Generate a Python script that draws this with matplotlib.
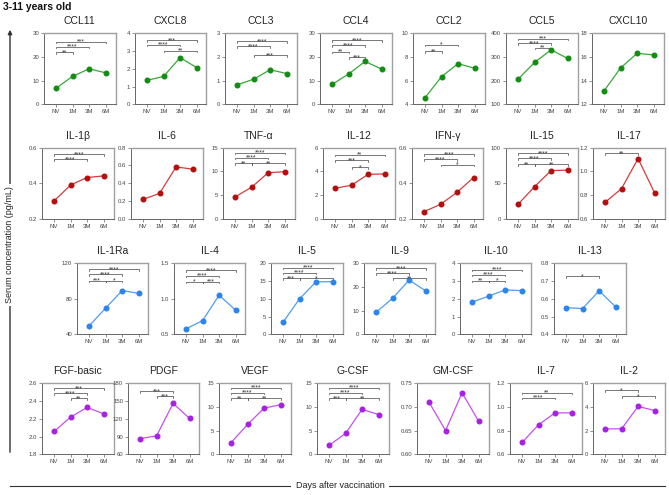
import matplotlib
matplotlib.use('Agg')
import matplotlib.pyplot as plt
from matplotlib.transforms import blended_transform_factory

plt.rcParams['font.family'] = ['Liberation Sans', 'DejaVu Sans']

timepoints = ['NV', '1M', '3M', '6M']

# ---- Row 1 : chemokines (green)
ccl11 = [6.8, 11.8, 15.0, 13.3]
cxcl8 = [1.35, 1.57, 2.63, 2.07]
ccl3 = [0.82, 1.06, 1.46, 1.30]
ccl4 = [8.4, 12.8, 18.1, 14.9]
ccl2 = [4.56, 6.34, 7.44, 7.04]
ccl5 = [206, 277, 330, 294]
cxcl10 = [13.13, 15.07, 16.31, 16.17]
# ---- Row 2 : (red)
il1b = [0.30, 0.39, 0.432, 0.441]
il6 = [0.218, 0.285, 0.584, 0.558]
tnfa = [4.6, 6.65, 9.7, 9.95]
il12 = [2.57, 2.83, 3.75, 3.78]
ifng = [0.24, 0.281, 0.349, 0.432]
il15 = [20.3, 45.2, 67.8, 68.4]
il17 = [0.738, 0.855, 1.108, 0.818]
# ---- Row 3 : (blue)
il1ra = [49.4, 69.4, 89.3, 86.2]
il4 = [0.577, 0.693, 1.05, 0.84]
il5 = [3.4, 10.0, 14.8, 14.8]
il9 = [9.3, 15.2, 22.9, 18.4]
il10 = [1.81, 2.15, 2.50, 2.46]
il13 = [0.55, 0.545, 0.645, 0.555]
# ---- Row 4 : (purple)
fgf = [2.057, 2.219, 2.328, 2.257]
pdgf = [86.6, 91.1, 146, 120.6]
vegf = [2.48, 6.3, 9.76, 10.47]
gcsf = [1.9, 4.4, 9.5, 8.4]
gmcsf = [0.71, 0.65, 0.73, 0.67]
il7 = [0.70, 0.85, 0.95, 0.95]
il2 = [2.15, 2.15, 4.05, 3.7]

# y ticks per panel
yt = {
    'CCL11': ([0, 10, 20, 30], '{:g}'), 'CXCL8': ([0, 1, 2, 3, 4], '{:g}'),
    'CCL3': ([0, 1, 2, 3], '{:g}'), 'CCL4': ([0, 10, 20, 30], '{:g}'),
    'CCL2': ([4, 6, 8, 10], '{:g}'), 'CCL5': ([100, 200, 300, 400], '{:g}'),
    'CXCL10': ([12, 14, 16, 18], '{:g}'),
    'IL-1β': ([0.2, 0.4, 0.6], '{:.1f}'), 'IL-6': ([0.0, 0.2, 0.4, 0.6, 0.8], '{:.1f}'),
    'TNF-α': ([0, 5, 10, 15], '{:g}'), 'IL-12': ([0, 2, 4, 6], '{:g}'),
    'IFN-γ': ([0.2, 0.4, 0.6], '{:.1f}'), 'IL-15': ([0, 50, 100], '{:g}'),
    'IL-17': ([0.6, 0.8, 1.0, 1.2], '{:.1f}'),
    'IL-1Ra': ([40, 80, 120], '{:g}'), 'IL-4': ([0.5, 1.0, 1.5], '{:.1f}'),
    'IL-5': ([0, 5, 10, 15, 20], '{:g}'), 'IL-9': ([0, 10, 20, 30], '{:g}'),
    'IL-10': ([0, 1, 2, 3, 4], '{:g}'), 'IL-13': ([0.4, 0.5, 0.6, 0.7, 0.8], '{:.1f}'),
    'FGF-basic': ([1.8, 2.0, 2.2, 2.4, 2.6], '{:.1f}'),
    'PDGF': ([60, 90, 120, 150, 180], '{:g}'), 'VEGF': ([0, 5, 10, 15], '{:g}'),
    'G-CSF': ([0, 5, 10, 15], '{:g}'), 'GM-CSF': ([0.60, 0.65, 0.70, 0.75], '{:.2f}'),
    'IL-7': ([0.6, 0.8, 1.0, 1.2], '{:.1f}'), 'IL-2': ([0, 2, 4, 6], '{:g}'),
}

# significance brackets: (from, to, label, height in axes fraction)
brackets = {
    'CCL11': [(0, 3, '***', 0.883), (0, 2, '****', 0.813), (0, 1, '**', 0.73)],
    'CXCL8': [(0, 3, '***', 0.906), (0, 2, '****', 0.84), (1, 3, '**', 0.757)],
    'CCL3': [(0, 3, '****', 0.89), (0, 2, '****', 0.815), (1, 3, '***', 0.69)],
    'CCL4': [(0, 3, '****', 0.906), (0, 2, '****', 0.833), (0, 1, '**', 0.74), (1, 2, '***', 0.66)],
    'CCL2': [(0, 2, '*', 0.837), (0, 1, '**', 0.744)],
    'CCL5': [(0, 3, '***', 0.925), (0, 2, '****', 0.862), (1, 2, '**', 0.795)],
    'IL-1β': [(0, 3, '****', 0.907), (0, 2, '****', 0.84)],
    'TNF-α': [(0, 3, '****', 0.93), (0, 2, '****', 0.86), (0, 1, '**', 0.78), (1, 3, '**', 0.78)],
    'IL-12': [(0, 3, '**', 0.90), (0, 2, '***', 0.82), (1, 2, '*', 0.725)],
    'IFN-γ': [(0, 3, '****', 0.91), (0, 2, '****', 0.84), (1, 3, '*', 0.76)],
    'IL-15': [(0, 3, '****', 0.92), (0, 2, '****', 0.85), (0, 1, '**', 0.77), (1, 3, '**', 0.77)],
    'IL-17': [(0, 2, '**', 0.92)],
    'IL-1Ra': [(0, 3, '****', 0.915), (0, 2, '****', 0.845), (0, 1, '***', 0.755), (1, 2, '*', 0.755)],
    'IL-4': [(0, 3, '****', 0.905), (0, 2, '****', 0.825), (0, 1, '*', 0.74), (1, 2, '***', 0.74)],
    'IL-5': [(0, 3, '****', 0.94), (0, 2, '****', 0.87), (0, 1, '***', 0.79), (1, 3, '*', 0.79)],
    'IL-9': [(0, 3, '****', 0.93), (0, 2, '****', 0.86), (1, 3, '**', 0.79)],
    'IL-10': [(0, 3, '****', 0.91), (0, 2, '****', 0.84), (0, 1, '**', 0.755), (1, 2, '*', 0.755)],
    'IL-13': [(0, 2, '*', 0.82)],
    'FGF-basic': [(0, 3, '***', 0.93), (0, 2, '****', 0.86), (1, 2, '**', 0.79)],
    'PDGF': [(0, 2, '***', 0.89), (1, 2, '***', 0.82)],
    'VEGF': [(0, 3, '****', 0.94), (0, 2, '****', 0.87), (0, 1, '**', 0.79), (1, 3, '**', 0.79)],
    'G-CSF': [(0, 3, '****', 0.94), (0, 2, '****', 0.87), (0, 1, '***', 0.79), (1, 3, '**', 0.79)],
    'IL-7': [(0, 3, '**', 0.87), (0, 2, '****', 0.80)],
    'IL-2': [(0, 2, '*', 0.90), (1, 3, '*', 0.82)],
}

rows = [
    [('CCL11', ccl11), ('CXCL8', cxcl8), ('CCL3', ccl3), ('CCL4', ccl4),
     ('CCL2', ccl2), ('CCL5', ccl5), ('CXCL10', cxcl10)],
    [('IL-1β', il1b), ('IL-6', il6), ('TNF-α', tnfa), ('IL-12', il12),
     ('IFN-γ', ifng), ('IL-15', il15), ('IL-17', il17)],
    [('IL-1Ra', il1ra), ('IL-4', il4), ('IL-5', il5), ('IL-9', il9),
     ('IL-10', il10), ('IL-13', il13)],
    [('FGF-basic', fgf), ('PDGF', pdgf), ('VEGF', vegf), ('G-CSF', gcsf),
     ('GM-CSF', gmcsf), ('IL-7', il7), ('IL-2', il2)],
]

# ---- layout (pixels)
W, H = 669, 495
ROW_TOP = [33.3, 147.7, 263.3, 383.3]
ROW_NV_X = [
    [56, 147, 237, 332, 425, 518, 604],
    [54, 143, 235, 335, 424, 518, 605],
    [89, 186, 283, 376, 472, 566],
    [54, 140, 231, 329, 429, 522, 605],
]
ROW_COLORS = [('#38a838', '#138c13'), ('#d43c3c', '#b30f0f'),
              ('#4f9ef2', '#2c84ee'), ('#c450f2', '#a622e0')]
BOX_W, BOX_H = 71.5, 71.0

fig = plt.figure(figsize=(W / 100, H / 100), dpi=100)
fig.patch.set_facecolor('white')

for r, row in enumerate(rows):
    lc, mc = ROW_COLORS[r]
    for k, (title, vals) in enumerate(row):
        xnv = ROW_NV_X[r][k]
        top = ROW_TOP[r]
        ax = fig.add_axes([(xnv - 12) / W, 1 - (top + BOX_H) / H, BOX_W / W, BOX_H / H])
        x = list(range(len(timepoints)))
        ax.plot(x, vals, color=lc, lw=0.9, marker='o', ms=3.3, mfc=mc, mec=mc,
                zorder=3, clip_on=False)
        ticks, fmt = yt[title]
        ax.set_xlim(-0.73, 3.6)
        ax.set_ylim(ticks[0], ticks[-1])
        ax.set_xticks(x)
        ax.set_xticklabels(timepoints)
        ax.set_yticks(ticks)
        ax.set_yticklabels([fmt.format(t) for t in ticks])
        ax.tick_params(axis='both', direction='out', length=2, width=0.5,
                       pad=1.5, labelsize=4.3, colors='#666', labelcolor='#444')
        for s in ('left', 'bottom'):
            ax.spines[s].set_color('#666')
            ax.spines[s].set_linewidth(0.7)
        for s in ('top', 'right'):
            ax.spines[s].set_color('#a0a0a0')
            ax.spines[s].set_linewidth(1.0)
        ax.text(0.5, 1 + 9 / BOX_H, title, transform=ax.transAxes, ha='center',
                va='baseline', fontsize=7.5, color='#222')
        trans = blended_transform_factory(ax.transData, ax.transAxes)
        for i, j, lab, yf in brackets.get(title, []):
            tk = 1.6 / BOX_H
            ax.plot([i, i, j, j], [yf - tk, yf, yf, yf - tk], transform=trans,
                    color='#555', lw=0.55, clip_on=False)
            ax.text((i + j) / 2, yf - 2.0 / BOX_H, lab, transform=trans,
                    ha='center', va='baseline', fontsize=5.0, color='#333')

# super title
fig.text(3 / W, 1 - 10 / H, '3-11 years old', fontsize=7.5, fontweight='bold',
         ha='left', va='baseline', color='#111')

# left vertical arrow with label
fig.add_artist(matplotlib.patches.FancyArrowPatch(
    (10 / W, 1 - 455 / H), (10 / W, 1 - 27 / H), transform=fig.transFigure,
    arrowstyle='-|>', mutation_scale=6, color='#333', lw=1.0))
fig.text(10 / W, 1 - 245 / H, 'Serum concentration (pg/mL)', rotation=90,
         ha='center', va='center', fontsize=6.5, color='#222',
         bbox=dict(facecolor='white', edgecolor='none', pad=2))

# bottom line with label
fig.add_artist(matplotlib.lines.Line2D([10 / W, 665 / W], [1 - 486 / H, 1 - 486 / H],
                                       transform=fig.transFigure, color='#333', lw=0.8))
fig.text(340 / W, 1 - 486 / H, 'Days after vaccination', ha='center', va='center',
         fontsize=6.5, color='#222',
         bbox=dict(facecolor='white', edgecolor='none', pad=3))

fig.savefig('out.png', dpi=100, facecolor='white')
